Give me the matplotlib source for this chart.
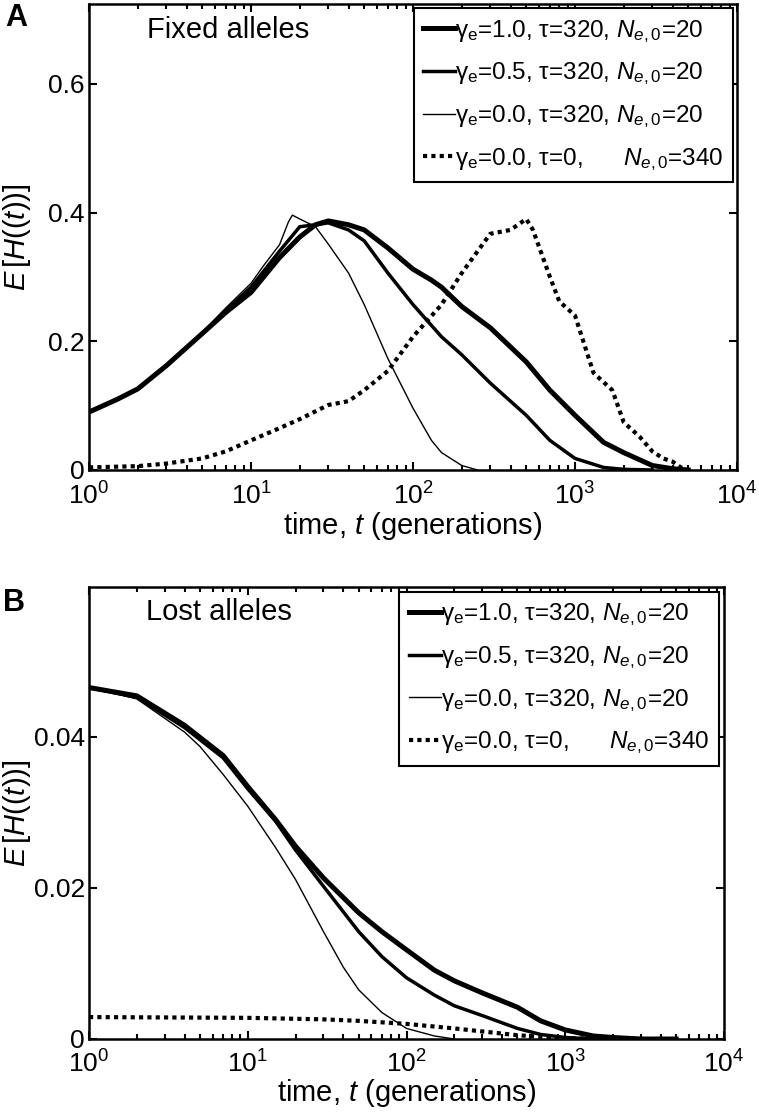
import matplotlib
matplotlib.use("Agg")
import matplotlib.pyplot as plt
from matplotlib.ticker import FixedLocator, FixedFormatter, LogLocator, NullFormatter

plt.rcParams['font.family'] = ['Liberation Sans', 'DejaVu Sans']
plt.rcParams['mathtext.fontset'] = 'custom'
plt.rcParams['mathtext.rm'] = 'Liberation Sans'
plt.rcParams['mathtext.it'] = 'Liberation Sans:italic'
plt.rcParams['mathtext.bf'] = 'Liberation Sans:bold'

# ---------------- Panel A: fixed alleles ----------------
tA1 = [1, 1.5, 2, 3, 5, 7, 10, 15, 20, 25, 30, 40, 50, 70, 100, 130, 150, 200, 300, 500, 700, 1000, 1500, 2000, 3000, 4000, 5000]
hA1 = [0.090, 0.110, 0.126, 0.162, 0.212, 0.245, 0.276, 0.330, 0.362, 0.381, 0.387, 0.381, 0.373, 0.345, 0.312, 0.295, 0.284, 0.254, 0.221, 0.168, 0.124, 0.085, 0.043, 0.027, 0.007, 0.002, 0.0]

tA2 = [1, 1.5, 2, 3, 5, 7, 10, 15, 20, 25, 30, 40, 50, 70, 100, 150, 200, 300, 500, 700, 1000, 1500, 2000, 3000]
hA2 = [0.090, 0.110, 0.126, 0.162, 0.212, 0.248, 0.284, 0.340, 0.378, 0.381, 0.384, 0.373, 0.356, 0.306, 0.257, 0.207, 0.179, 0.135, 0.085, 0.046, 0.018, 0.004, 0.001, 0.0]

tA3 = [1, 1.5, 2, 3, 5, 7, 10, 12, 15, 17, 18, 20, 25, 30, 40, 50, 70, 100, 130, 150, 200, 250]
hA3 = [0.090, 0.110, 0.126, 0.162, 0.214, 0.252, 0.290, 0.318, 0.350, 0.385, 0.396, 0.390, 0.378, 0.351, 0.306, 0.257, 0.173, 0.096, 0.046, 0.027, 0.007, 0.0]

tA4 = [1, 2, 3, 5, 7, 10, 15, 20, 30, 40, 50, 70, 100, 150, 200, 300, 400, 500, 550, 700, 800, 1000, 1300, 1700, 2000, 2500, 3000, 3500, 4000, 4500, 5000]
hA4 = [0.004, 0.006, 0.010, 0.018, 0.029, 0.046, 0.065, 0.079, 0.101, 0.107, 0.124, 0.154, 0.207, 0.257, 0.306, 0.367, 0.373, 0.390, 0.373, 0.300, 0.262, 0.240, 0.151, 0.124, 0.074, 0.052, 0.029, 0.018, 0.013, 0.004, 0.0]

# ---------------- Panel B: lost alleles ----------------
tB1 = [1, 2, 4, 5, 7, 10, 15, 20, 30, 50, 70, 100, 150, 200, 300, 500, 700, 1000, 1500, 2000, 3000, 5000]
hB1 = [0.0465, 0.0454, 0.0415, 0.0399, 0.0375, 0.0334, 0.0290, 0.0255, 0.0213, 0.0167, 0.0142, 0.0118, 0.0091, 0.0077, 0.0061, 0.0042, 0.0024, 0.0012, 0.0004, 0.0002, 0.0, 0.0]

tB2 = [1, 2, 4, 5, 7, 10, 15, 20, 30, 50, 70, 100, 150, 200, 300, 500, 700, 1000, 1500]
hB2 = [0.0465, 0.0452, 0.0412, 0.0396, 0.0372, 0.0331, 0.0288, 0.0250, 0.0202, 0.0142, 0.0109, 0.0081, 0.0058, 0.0044, 0.0031, 0.0014, 0.0006, 0.0002, 0.0]

tB3 = [1, 2, 4, 5, 7, 10, 15, 20, 30, 40, 50, 70, 100, 150, 200]
hB3 = [0.0465, 0.0450, 0.0406, 0.0387, 0.0350, 0.0308, 0.0253, 0.0211, 0.0142, 0.0095, 0.0065, 0.0035, 0.0014, 0.0004, 0.0]

tB4 = [1, 10, 30, 50, 100, 200, 300, 500, 700, 1000, 2000]
hB4 = [0.0029, 0.0028, 0.0026, 0.0024, 0.0020, 0.0014, 0.0010, 0.0005, 0.0003, 0.0001, 0.0]

labels = [
    'γ$_{\\rm e}$=1.0, τ=320, $N_{e,0}$=20',
    'γ$_{\\rm e}$=0.5, τ=320, $N_{e,0}$=20',
    'γ$_{\\rm e}$=0.0, τ=320, $N_{e,0}$=20',
    'γ$_{\\rm e}$=0.0, τ=0,      $N_{e,0}$=340',
]
yticksA = [0, 0.2, 0.4, 0.6]
yticklabelsA = ['0', '0.2', '0.4', '0.6']
yticksB = [0, 0.02, 0.04]
yticklabelsB = ['0', '0.02', '0.04']

W, H = 759, 1116
fig = plt.figure(figsize=(W / 100, H / 100), dpi=100)
axA = fig.add_axes([89 / W, 1 - 470 / H, 648 / W, 466 / H])
axB = fig.add_axes([89 / W, 1 - 1039 / H, 635 / W, 452 / H])

styles = [dict(lw=3.6), dict(lw=2.5), dict(lw=1.0), dict(lw=3.0, dashes=(1, 1), dash_capstyle='butt')]


def draw(ax, series, ylim, yt, ytl, title, legend_anchor, axw, xpad, xlabelpad):
    for (t, h), st, lab in zip(series, styles, labels):
        ax.plot(t, h, color='black', label=lab, solid_joinstyle='round', **st)
    ax.set_xscale('log')
    ax.set_xlim(1, 1e4)
    ax.set_ylim(*ylim)
    ax.yaxis.set_major_locator(FixedLocator(yt))
    ax.yaxis.set_major_formatter(FixedFormatter(ytl))
    ax.xaxis.set_major_locator(LogLocator(base=10, numticks=10))
    ax.xaxis.set_minor_locator(LogLocator(base=10, subs=range(2, 10), numticks=20))
    ax.xaxis.set_minor_formatter(NullFormatter())
    ax.tick_params(which='both', direction='in', top=True, right=True, labelsize=19, width=1.5)
    ax.tick_params(which='major', length=6)
    ax.tick_params(which='minor', length=3.5)
    ax.tick_params(axis='x', pad=xpad)
    ax.tick_params(axis='y', pad=3)
    for s in ax.spines.values():
        s.set_linewidth(1.8)
    ax.set_xlabel('time, $t$ (generations)', fontsize=21, labelpad=xlabelpad)
    ax.set_ylabel('$E\\,[H((t))]$', fontsize=21)
    ax.yaxis.label.set_va('center')
    ax.yaxis.set_label_coords((17 - 89) / axw, 0.5)
    ax.text(0.09, 0.944, title, transform=ax.transAxes, fontsize=21, va='center', ha='left')
    leg = ax.legend(loc='upper right', bbox_to_anchor=legend_anchor, borderaxespad=0,
                    fontsize=17.5, frameon=True, fancybox=False, handlelength=1.3,
                    handletextpad=0.0, labelspacing=0.65, borderpad=0.4)
    leg.get_frame().set_edgecolor('black')
    leg.get_frame().set_linewidth(1.5)
    leg.get_frame().set_alpha(1)


draw(axA, [(tA1, hA1), (tA2, hA2), (tA3, hA3), (tA4, hA4)], (0, 0.724), yticksA, yticklabelsA,
     'Fixed alleles', (0.994, 0.991), 648, 9, 0)
draw(axB, [(tB1, hB1), (tB2, hB2), (tB3, hB3), (tB4, hB4)], (0, 0.0598), yticksB, yticklabelsB,
     'Lost alleles', (0.992, 0.989), 635, 8, 0)

fig.text(5 / W, 1 - 3 / H, 'A', fontsize=22, fontweight='bold', va='top', ha='left')
fig.text(3 / W, 1 - 588 / H, 'B', fontsize=22, fontweight='bold', va='top', ha='left')

fig.savefig('out.png', dpi=100)
